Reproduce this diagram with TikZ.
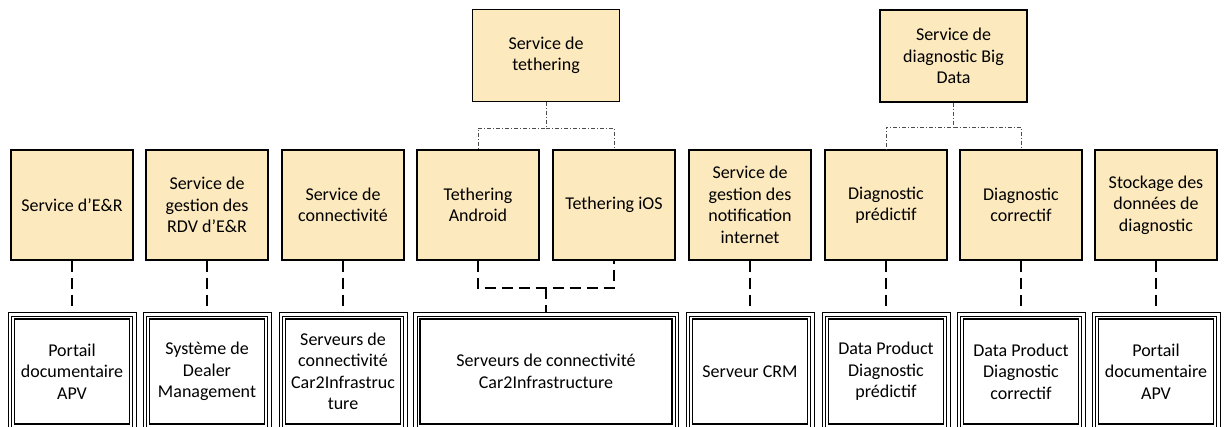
\documentclass[tikz,border=0pt]{standalone}
\usepackage{fontspec}
\setmainfont{Carlito}
\usetikzlibrary{arrows.meta,positioning}
\definecolor{svcfill}{RGB}{252,233,189}

\begin{document}
\begin{tikzpicture}[
        x=1pt, y=-1pt,
        font=\fontsize{18}{21.5}\selectfont,
        service/.style={draw=black, fill=svcfill, line width=1.3pt, align=center, inner sep=0pt, minimum width=122pt, minimum height=110pt},
        parent/.style={service, minimum height=92pt, minimum width=147pt},
        server/.style={draw=black, line width=1.3pt, align=center, inner sep=0pt, outer sep=7pt, minimum width=115pt, minimum height=105pt},
        link/.style={draw=black, line width=1.8pt, dash pattern=on 11pt off 6pt},
        tie/.style={draw=gray!60!black, line width=0.9pt, dash pattern=on 4pt off 2pt on 1pt off 2pt}
    ]
        \useasboundingbox (0,0) rectangle (1224,426);
        \clip (0,0) rectangle (1224,426);

        \node[parent] (teth) at (546,55.5) {Service de\\tethering};
        \node[parent] (bigd) at (953.5,56) {Service de\\diagnostic Big\\Data};

        \node[service] (er) at (72,205) {Service d’E\&R};
        \node[service] (rdv) at (207,205) {Service de\\gestion des\\RDV d’E\&R};
        \node[service] (conn) at (343,205) {Service de\\connectivité};
        \node[service] (tand) at (478,205) {Tethering\\Android};
        \node[service] (tios) at (614,205) {Tethering iOS};
        \node[service] (notif) at (750,205) {Service de\\gestion des\\notification\\internet};
        \node[service] (dpred) at (886,205) {Diagnostic\\prédictif};
        \node[service] (dcorr) at (1021,205) {Diagnostic\\correctif};
        \node[service] (stock) at (1156,205) {Stockage des\\données de\\diagnostic};

        \node[server] (portal) at (72,371.5) {Portail\\documentaire\\APV};
        \node[server] (dms) at (207,371.5) {Système de\\Dealer\\Management};
        \node[server] (cserv) at (343,371.5) {Serveurs de\\connectivité\\Car2Infrastruc\\ture};
        \node[server, minimum width=252pt] (tserv) at (546,371.5) {Serveurs de connectivité\\Car2Infrastructure};
        \node[server] (crm) at (750,371.5) {Serveur CRM};
        \node[server] (dppred) at (886,371.5) {Data Product\\Diagnostic\\prédictif};
        \node[server] (dpcorr) at (1021,371.5) {Data Product\\Diagnostic\\correctif};
        \node[server] (dstore) at (1156,371.5) {Portail\\documentaire\\APV};

        % double outer frame of the servers
        \foreach \n in {portal,dms,cserv,tserv,crm,dppred,dpcorr,dstore}
            \draw[line width=1pt, double, double distance=2.5pt] ([shift={(2.25pt,2.25pt)}]\n.south west) rectangle ([shift={(-2.25pt,-2.25pt)}]\n.north east);

        \coordinate (tethtop) at (546,128);
        \coordinate (bigtop) at (953.5,127);
        \coordinate (tethbot) at (546,288);

        \draw[tie] (teth.south) -- (tethtop) -| (tand.north);
        \draw[tie] (tethtop) -| (tios.north);
        \draw[tie] (bigd.south) -- (bigtop) -| (dpred.north);
        \draw[tie] (bigtop) -| (dcorr.north);

        \draw[link] (er) -- (portal);
        \draw[link] (rdv) -- (dms);
        \draw[link] (conn) -- (cserv);
        \draw[link] (tand.south) |- (tethbot) -| (tios.south);
        \draw[link] (tethbot) -- (tserv.north);
        \draw[link] (notif) -- (crm);
        \draw[link] (dpred) -- (dppred);
        \draw[link] (dcorr) -- (dpcorr);
        \draw[link] (stock) -- (dstore);
    \end{tikzpicture}
\end{document}
